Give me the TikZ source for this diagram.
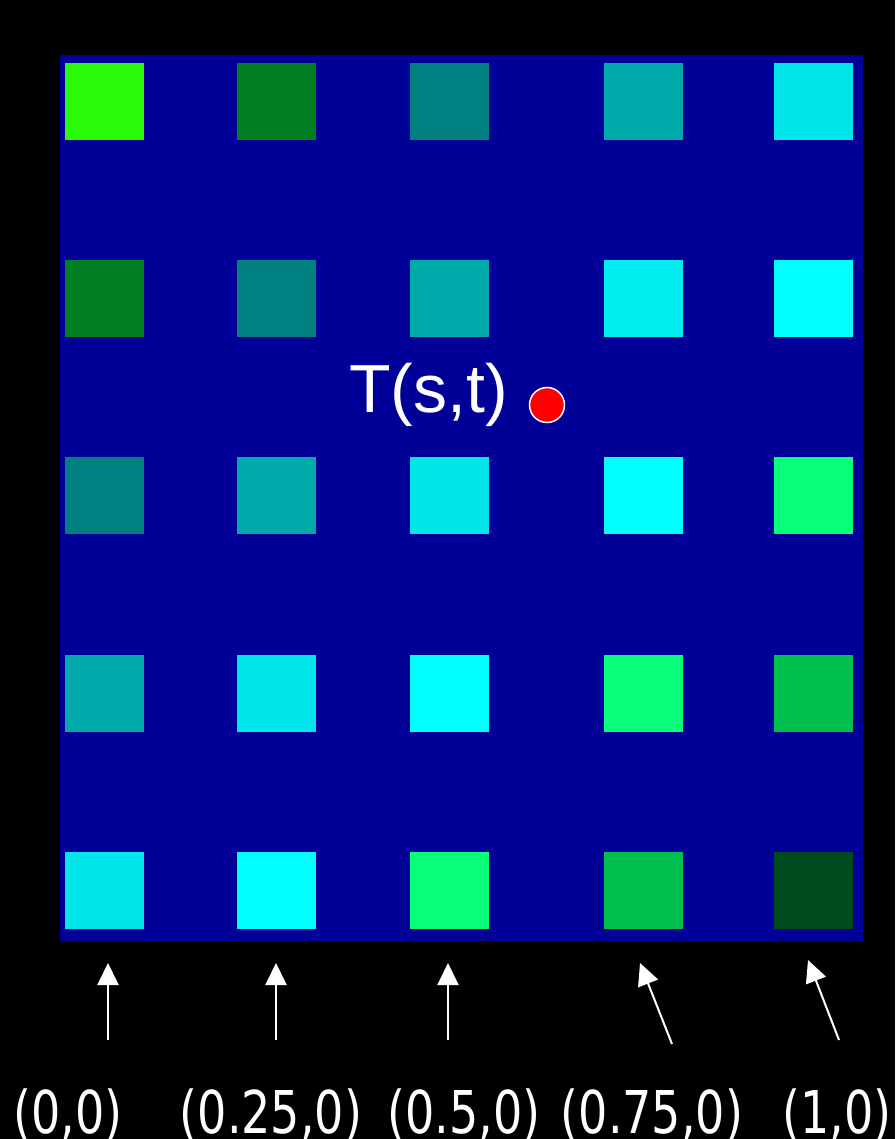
\documentclass[tikz,border=0pt]{standalone}
\usepackage{fontspec}
\usepackage{graphicx}
\setmainfont{Liberation Sans}
\newfontfamily\lblfont{DejaVu Sans}
\usetikzlibrary{arrows.meta}
\definecolor{bg}{HTML}{000099}
\definecolor{cA}{HTML}{28FA08}
\definecolor{cB}{HTML}{008020}
\definecolor{cC}{HTML}{008080}
\definecolor{cD}{HTML}{00AAAA}
\definecolor{cE}{HTML}{00E6EA}
\definecolor{cF}{HTML}{00FFFF}
\definecolor{cG}{HTML}{0AFF78}
\definecolor{cH}{HTML}{00C050}
\definecolor{cI}{HTML}{004A20}
\definecolor{cJ}{HTML}{00EEEE}
\begin{document}
\begin{tikzpicture}[x=1pt,y=-1pt,
  sq/.style={minimum width=79pt,minimum height=77pt,inner sep=0pt,draw=none,anchor=north west},
  lbl/.style={text=white,inner sep=0pt,anchor=base,font=\lblfont\fontsize{59}{59}\selectfont},
  arr/.style={draw=white,line width=2pt,-{Triangle[length=22pt,width=21pt]}},
  dotst/.style={circle,fill=red,draw=white,line width=1.5pt,minimum size=35pt,inner sep=0pt}]
\fill[black] (0,0) rectangle (895,1139);
\useasboundingbox (0,0) rectangle (895,1139);
\fill[bg] (60,55) rectangle (863,941);
% squares
\foreach \r/\y/\ca/\cb/\cc/\cd/\ce in {
  1/63/cA/cB/cC/cD/cE,
  2/260/cB/cC/cD/cJ/cF,
  3/457/cC/cD/cE/cF/cG,
  4/655/cD/cE/cF/cG/cH,
  5/852/cE/cF/cG/cH/cI}{
  \node[sq,fill=\ca] (s\r-1) at (65,\y) {};
  \node[sq,fill=\cb] (s\r-2) at (237,\y) {};
  \node[sq,fill=\cc] (s\r-3) at (410,\y) {};
  \node[sq,fill=\cd] (s\r-4) at (604,\y) {};
  \node[sq,fill=\ce] (s\r-5) at (774,\y) {};
}
% label and point
\node[text=white,inner sep=0pt,anchor=base west,font=\fontsize{68}{68}\selectfont] (T) at (349,412) {T(s,t)};
\node[dotst] (dot) at (547,405) {};
% bottom labels
\node[lbl] (l1) at (68,1133) {\scalebox{0.78}[1]{(0,0)}};
\node[lbl] (l2) at (271,1133) {\scalebox{0.78}[1]{(0.25,0)}};
\node[lbl] (l3) at (464,1133) {\scalebox{0.78}[1]{(0.5,0)}};
\node[lbl] (l4) at (652,1133) {\scalebox{0.78}[1]{(0.75,0)}};
\node[lbl] (l5) at (837,1133) {\scalebox{0.78}[1]{(1,0)}};
% arrows
\coordinate (a1s) at (108,1040); \coordinate (a1e) at (108,963);
\coordinate (a2s) at (276,1040); \coordinate (a2e) at (276,963);
\coordinate (a3s) at (448,1040); \coordinate (a3e) at (448,963);
\coordinate (a4s) at (672,1044); \coordinate (a4e) at (640,963);
\coordinate (a5s) at (839,1040); \coordinate (a5e) at (808,960);
\draw[arr] (a1s) -- (a1e);
\draw[arr] (a2s) -- (a2e);
\draw[arr] (a3s) -- (a3e);
\draw[arr] (a4s) -- (a4e);
\draw[arr] (a5s) -- (a5e);
\end{tikzpicture}
\end{document}
